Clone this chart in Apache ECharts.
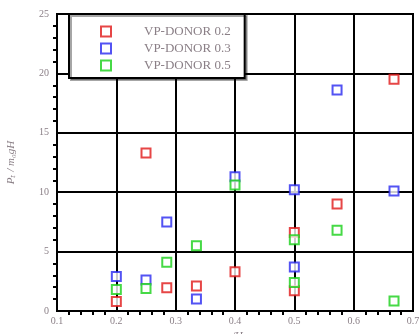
<!DOCTYPE html>
<html><head><meta charset="utf-8">
<script src="https://cdn.jsdelivr.net/npm/echarts@6/dist/echarts.min.js"></script>
<style>html,body{margin:0;padding:0;background:#fff}#c{width:419px;height:334px}</style>
</head><body><div id="c"></div>
<script>
var seriesNames = ['VP-DONOR 0.2', 'VP-DONOR 0.3', 'VP-DONOR 0.5'];
var seriesColors = ['#e01818', '#2828f0', '#18d018'];
var xDonor02 = [0.2, 0.25, 0.285, 0.335, 0.4, 0.5, 0.5, 0.572, 0.668];
var yDonor02 = [0.8, 13.3, 1.95, 2.1, 3.3, 6.6, 1.7, 9.0, 19.5];
var xDonor03 = [0.2, 0.25, 0.285, 0.335, 0.4, 0.5, 0.5, 0.572, 0.668];
var yDonor03 = [2.9, 2.6, 7.5, 1.0, 11.3, 10.2, 3.7, 18.6, 10.1];
var xDonor05 = [0.2, 0.25, 0.285, 0.335, 0.4, 0.5, 0.5, 0.572, 0.668];
var yDonor05 = [1.8, 1.9, 4.1, 5.5, 10.6, 6.0, 2.4, 6.8, 0.85];
var xTicks = [0.1, 0.2, 0.3, 0.4, 0.5, 0.6, 0.7];
var yTicks = [0, 5, 10, 15, 20, 25];

function pairs(xs, ys){ return xs.map(function(x,i){ return [x, ys[i]]; }); }
var allData = [pairs(xDonor02,yDonor02), pairs(xDonor03,yDonor03), pairs(xDonor05,yDonor05)];
var labelColor = '#8a7f86';
var chart = echarts.init(document.getElementById('c'));
chart.setOption({
  animation: false,
  grid: {left: 57, right: 6, top: 14, bottom: 23, containLabel: false, outerBoundsMode: 'none',
    show: true, borderColor: '#000', borderWidth: 2},
  xAxis: {
    type: 'value', min: xTicks[0], max: xTicks[xTicks.length-1], interval: 0.1,
    name: 'z/H', nameLocation: 'middle', nameGap: 19,
    nameTextStyle: {fontFamily: 'Liberation Serif', fontStyle: 'italic', fontSize: 11, color: labelColor},
    axisLine: {show: true, lineStyle: {color: '#000', width: 2}},
    axisTick: {show: false},
    minorTick: {show: true, splitNumber: 5, length: 4, lineStyle: {color: '#000', width: 2}},
    axisLabel: {fontFamily: 'Liberation Serif', fontSize: 10, color: labelColor, margin: 5,
      formatter: function(v){ return v.toFixed(1); }},
    splitLine: {show: true, lineStyle: {color: '#000', width: 2}}
  },
  yAxis: {
    type: 'value', min: yTicks[0], max: yTicks[yTicks.length-1], interval: 5,
    name: 'P\u209C / m\u2080gH', nameLocation: 'middle', nameGap: 40, nameRotate: 90,
    nameTextStyle: {fontFamily: 'Liberation Serif', fontStyle: 'italic', fontSize: 11, color: labelColor},
    axisLine: {show: true, lineStyle: {color: '#000', width: 2}},
    axisTick: {show: false},
    minorTick: {show: true, splitNumber: 5, length: 4, lineStyle: {color: '#000', width: 2}},
    axisLabel: {fontFamily: 'Liberation Serif', fontSize: 10, color: labelColor, margin: 8},
    splitLine: {show: true, lineStyle: {color: '#000', width: 2}}
  },
  legend: {
    left: 69, top: 14, orient: 'vertical',
    backgroundColor: '#fff', borderColor: '#000', borderWidth: 2,
    shadowColor: 'rgba(0,0,0,0.35)', shadowOffsetX: 2, shadowOffsetY: 2, shadowBlur: 0,
    padding: [11, 14, 6, 31], itemGap: 4, itemWidth: 10, itemHeight: 10,
    textStyle: {fontFamily: 'Liberation Serif', fontSize: 13, color: labelColor, padding: [0, 0, 0, 28]},
    data: seriesNames
  },
  series: seriesNames.map(function(n, i){
    return {
      name: n, type: 'scatter', data: allData[i], symbol: 'rect', symbolSize: 9,
      itemStyle: {color: '#fff', borderColor: seriesColors[i], borderWidth: 2},
      z: 5
    };
  })
});
</script>
</body></html>
